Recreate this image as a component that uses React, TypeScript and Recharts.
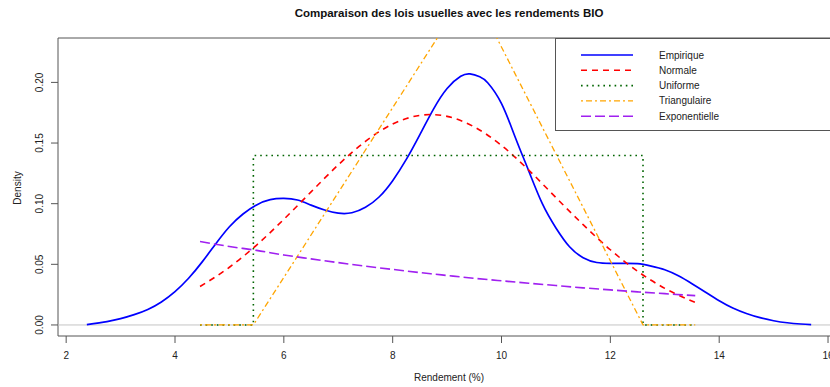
import { LineChart, Line, XAxis, YAxis, ReferenceLine, ReferenceArea } from 'recharts';

// Densité empirique (noyau) des rendements BIO
const EMP_X = [2.38, 2.75, 3.0, 3.25, 3.5, 3.75, 4.0, 4.25, 4.5, 4.75, 5.0, 5.25, 5.5, 5.75, 6.0, 6.25, 6.5, 6.75, 7.0, 7.25, 7.5, 7.75, 8.0, 8.25, 8.5, 8.75, 9.0, 9.25, 9.42, 9.6, 9.75, 10.0, 10.25, 10.5, 10.75, 11.0, 11.25, 11.5, 11.75, 12.0, 12.25, 12.5, 12.75, 13.0, 13.25, 13.5, 13.75, 14.0, 14.25, 14.5, 14.75, 15.0, 15.25, 15.5, 15.69];
const EMP_Y = [0.0003, 0.0028, 0.0052, 0.0085, 0.0128, 0.019, 0.0275, 0.0385, 0.052, 0.067, 0.081, 0.0915, 0.099, 0.1033, 0.1043, 0.103, 0.0988, 0.0948, 0.0922, 0.0925, 0.097, 0.1055, 0.119, 0.1365, 0.157, 0.178, 0.195, 0.205, 0.207, 0.2047, 0.1995, 0.1825, 0.155, 0.127, 0.1, 0.08, 0.0645, 0.0555, 0.0515, 0.0508, 0.0508, 0.0505, 0.0485, 0.0455, 0.0405, 0.034, 0.027, 0.02, 0.014, 0.0095, 0.006, 0.0035, 0.0018, 0.0008, 0.0003];

// Lois ajustées (normale, exponentielle) sur l'étendue des données
const FIT_X = [4.46, 5.0, 5.5, 6.0, 6.5, 7.0, 7.5, 8.0, 8.5, 8.7, 9.0, 9.5, 10.0, 10.5, 11.0, 11.5, 12.0, 12.5, 13.0, 13.56];
const NORM_Y = [0.0317, 0.0476, 0.0659, 0.0871, 0.1097, 0.132, 0.1514, 0.1657, 0.1728, 0.1735, 0.172, 0.1633, 0.148, 0.1277, 0.105, 0.0827, 0.062, 0.0443, 0.0302, 0.0186];
const EXPO_Y = [0.0688, 0.0647, 0.0615, 0.0577, 0.0545, 0.0514, 0.0485, 0.0458, 0.0432, 0.0422, 0.0408, 0.0385, 0.0364, 0.0344, 0.0325, 0.0306, 0.0289, 0.0273, 0.0258, 0.0242];

const UNIF_X = [4.46, 5.44, 5.44, 12.6, 12.6, 13.56];
const UNIF_Y = [0, 0, 0.1397, 0.1397, 0, 0];

const TRI_X = [4.46, 5.44, 9.43, 12.6, 13.56];
const TRI_Y = [0, 0, 0.2793, 0, 0];

const X_TICKS = [2, 4, 6, 8, 10, 12, 14, 16];
const Y_TICKS = [0, 0.05, 0.1, 0.15, 0.2];

const toPoints = (xs: number[], ys: number[]) => xs.map((x, i) => ({ x, y: ys[i] }));

const SERIES = [
  { name: 'Empirique', color: '#0000ff', dash: undefined, width: 1.7, data: toPoints(EMP_X, EMP_Y), type: 'natural' },
  { name: 'Normale', color: '#ff0000', dash: '6 5', width: 1.6, data: toPoints(FIT_X, NORM_Y), type: 'monotone' },
  { name: 'Uniforme', color: '#006400', dash: '1.6 4', width: 1.6, data: toPoints(UNIF_X, UNIF_Y), type: 'linear' },
  { name: 'Triangulaire', color: '#ffa500', dash: '2 3 6 3', width: 1.3, data: toPoints(TRI_X, TRI_Y), type: 'linear' },
  { name: 'Exponentielle', color: '#a020f0', dash: '10 4', width: 1.6, data: toPoints(FIT_X, EXPO_Y), type: 'monotone' },
];

const FONT = '"Liberation Sans", Arial, sans-serif';

const XTick = (props: any) => (
  <text x={props.x} y={359} textAnchor="middle" fontSize={10} fill="#222" fontFamily={FONT}>
    {props.payload.value}
  </text>
);

const YTick = (props: any) => (
  <text
    x={43.5}
    y={props.y}
    transform={`rotate(-90 43.5 ${props.y})`}
    textAnchor="middle"
    fontSize={10}
    fill="#222"
    fontFamily={FONT}
  >
    {props.payload.value.toFixed(2)}
  </text>
);

function LegendBox() {
  return (
    <svg width={280} height={95} style={{ position: 'absolute', left: 554, top: 37 }}>
      <rect x={1.5} y={1.5} width={300} height={92} fill="#fff" stroke="#555" />
      {SERIES.map((s, i) => {
        const y = 18 + i * 15.3;
        return (
          <g key={s.name}>
            <line x1={27} x2={79} y1={y} y2={y} stroke={s.color} strokeWidth={s.width} strokeDasharray={s.dash} />
            <text x={105} y={y + 3.5} fontSize={10} fill="#222" fontFamily={FONT}>{s.name}</text>
          </g>
        );
      })}
    </svg>
  );
}

export default function App() {
  return (
    <div style={{ position: 'absolute', left: 0, top: 0, width: 830, height: 387, overflow: 'hidden', background: '#fff', fontFamily: FONT }}>
      <LineChart width={850} height={387} margin={{ top: 38, right: 10, bottom: 0, left: 0 }}>
        <XAxis
          type="number"
          dataKey="x"
          domain={[1.85, 16.22]}
          allowDataOverflow
          ticks={X_TICKS}
          tick={<XTick />}
          tickSize={7}
          tickLine={{ stroke: '#555' }}
          axisLine={false}
          height={51}
        />
        <YAxis
          type="number"
          dataKey="y"
          domain={[-0.0091, 0.2366]}
          allowDataOverflow
          ticks={Y_TICKS}
          tick={<YTick />}
          tickSize={7}
          tickLine={{ stroke: '#555' }}
          axisLine={false}
          width={58}
        />
        <ReferenceLine y={0} stroke="#c4c4c4" strokeWidth={1} />
        {SERIES.map((s) => (
          <Line
            key={s.name}
            data={s.data}
            dataKey="y"
            name={s.name}
            type={s.type as any}
            stroke={s.color}
            strokeWidth={s.width}
            strokeDasharray={s.dash}
            dot={false}
            activeDot={false}
            isAnimationActive={false}
          />
        ))}
        <ReferenceArea x1={1.85} x2={16.22} y1={-0.0091} y2={0.2366} fill="none" stroke="#555" strokeWidth={1} ifOverflow="visible" />
      </LineChart>
      <LegendBox />
      <div style={{ position: 'absolute', left: 58, width: 782, top: 7, textAlign: 'center', fontWeight: 'bold', fontSize: 11.5, color: '#111' }}>
        Comparaison des lois usuelles avec les rendements BIO
      </div>
      <div style={{ position: 'absolute', left: 58, width: 782, top: 372, textAlign: 'center', fontSize: 10, color: '#222' }}>
        Rendement (%)
      </div>
      <div style={{ position: 'absolute', left: 17, top: 188, transform: 'translate(-50%, -50%) rotate(-90deg)', fontSize: 10, color: '#222', whiteSpace: 'nowrap' }}>
        Density
      </div>
    </div>
  );
}
